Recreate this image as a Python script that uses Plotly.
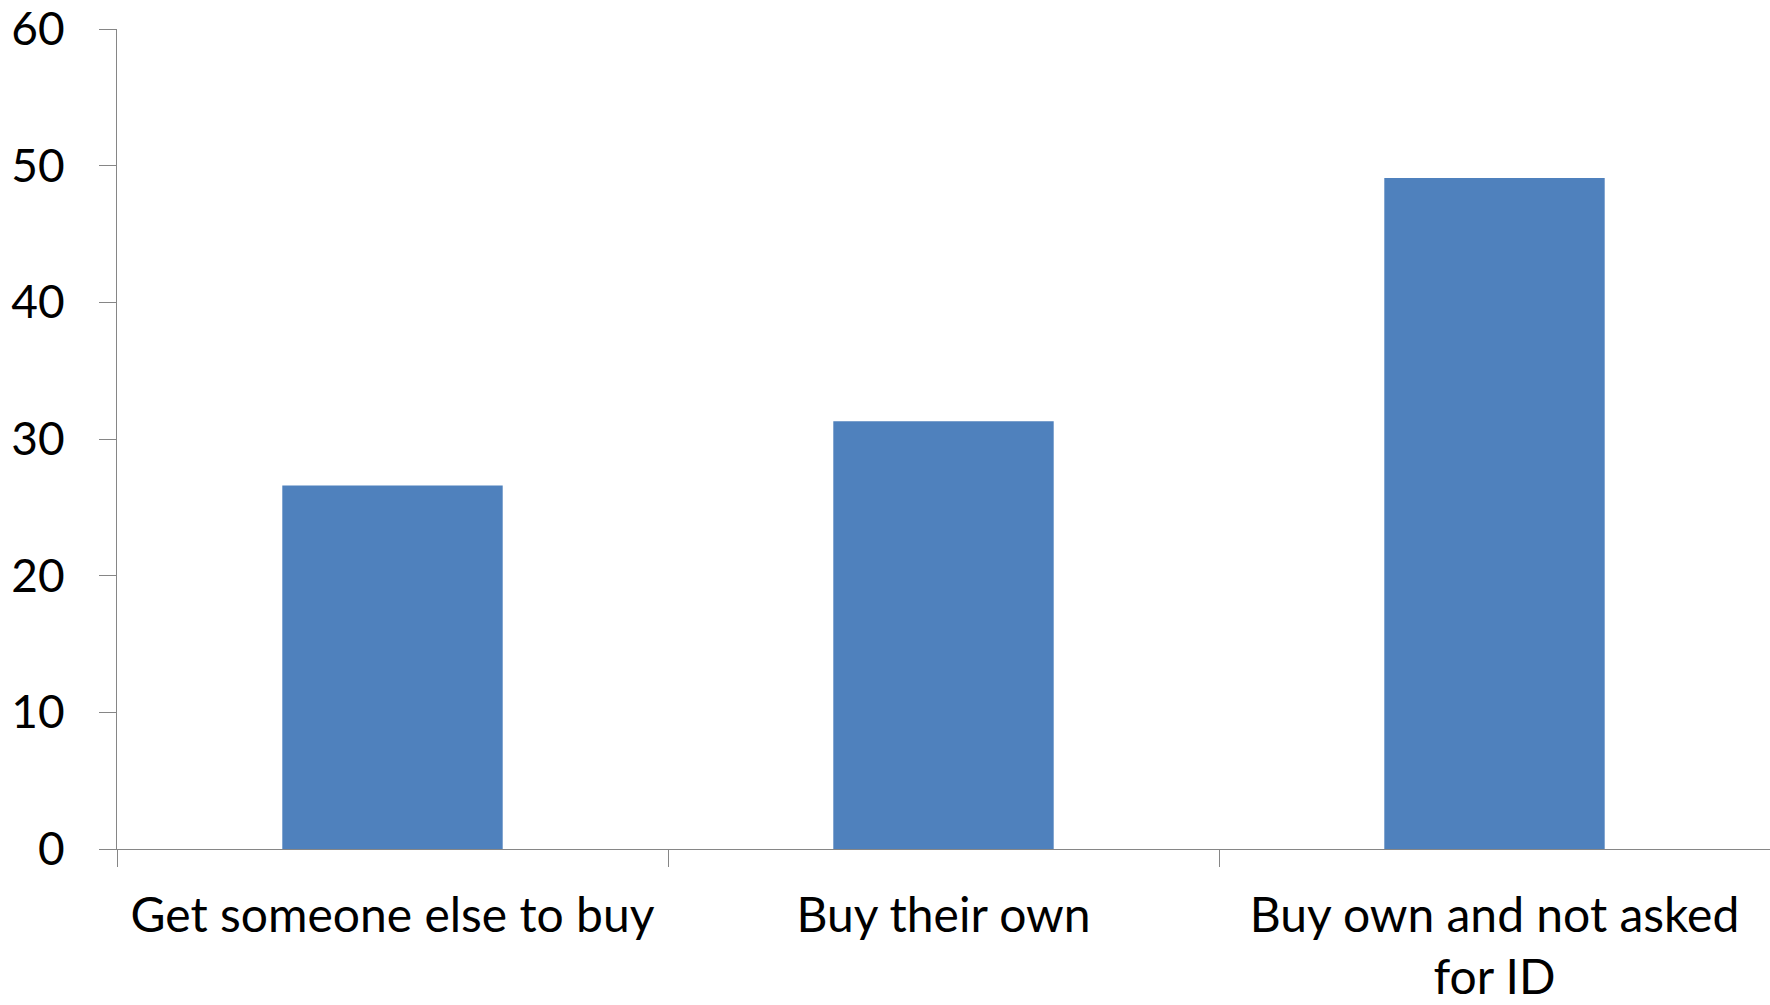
import plotly.graph_objects as go

categories = ["Get someone else to buy", "Buy their own", "Buy own and not asked<br>for ID"]
values = [26.6, 31.3, 49.1]
y_ticks = [0, 10, 20, 30, 40, 50, 60]

fig = go.Figure(
    go.Bar(
        x=categories,
        y=values,
        marker=dict(color="#4F81BD", line=dict(width=0)),
        hoverinfo="x+y",
    )
)

axis_color = "#868686"
font_family = "Lato, 'Open Sans', sans-serif"

fig.update_layout(
    width=1770,
    height=1005,
    margin=dict(l=117, r=0, t=29, b=156),
    paper_bgcolor="white",
    plot_bgcolor="white",
    bargap=0.6,
    showlegend=False,
    font=dict(family=font_family, size=49, color="black"),
)

fig.update_xaxes(
    automargin=False,
    showline=True,
    linecolor=axis_color,
    linewidth=1.3,
    ticks="outside",
    tickson="boundaries",
    ticklen=17,
    tickcolor=axis_color,
    tickwidth=1.3,
    showgrid=False,
    tickfont=dict(size=48),
    ticklabelstandoff=24,
    ticklabeloverflow="allow",
)

fig.update_yaxes(
    automargin=False,
    range=[0, 60],
    tickvals=y_ticks,
    showline=True,
    linecolor=axis_color,
    linewidth=1.3,
    ticks="outside",
    ticklen=17,
    tickcolor=axis_color,
    tickwidth=1.3,
    showgrid=False,
    zeroline=False,
    tickfont=dict(size=46),
    ticklabelstandoff=25,
    ticklabeloverflow="allow",
)

fig.write_html("out.html")
